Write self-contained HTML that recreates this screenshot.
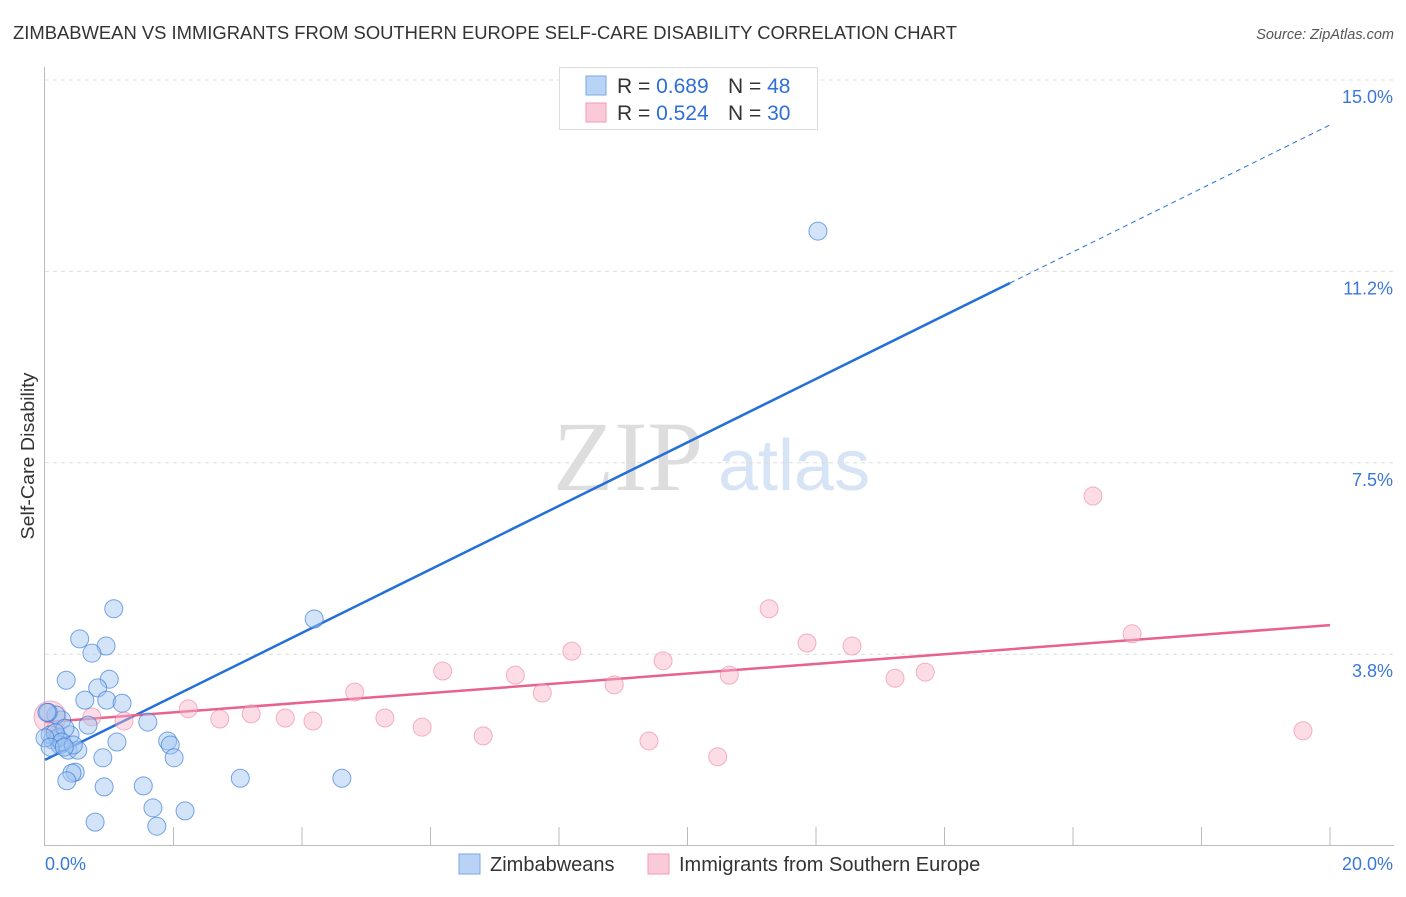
<!DOCTYPE html>
<html><head><meta charset="utf-8"><style>
body{margin:0;background:#fff;font-family:"Liberation Sans",sans-serif;}
svg text{font-family:"Liberation Sans",sans-serif;}
</style></head><body>
<svg id="chart" width="1406" height="892">
<text x="13" y="39" font-size="18" fill="#333" textLength="944" lengthAdjust="spacingAndGlyphs">ZIMBABWEAN VS IMMIGRANTS FROM SOUTHERN EUROPE SELF-CARE DISABILITY CORRELATION CHART</text>
<text x="1394" y="39" font-size="14.5" fill="#555" font-style="italic" text-anchor="end">Source: ZipAtlas.com</text>
<text x="34" y="456" font-size="18" fill="#333" transform="rotate(-90 34 456)" text-anchor="middle" textLength="167" lengthAdjust="spacingAndGlyphs">Self-Care Disability</text>
<g><text x="553" y="490" font-size="100" fill="#ddd" style="font-family:'Liberation Serif',serif">ZIP</text><text x="718" y="490" font-size="72" fill="#d6e4f5">atlas</text></g>
<g id="grid"></g><g id="axes"></g><g id="lines"></g><g id="pts"></g>
<g>
<rect x="559.5" y="67.5" width="258" height="62" fill="#fff" stroke="#ddd"/>
<rect x="586" y="76" width="20" height="19" fill="#b8d3f5" stroke="#7aaae6"/>
<rect x="586" y="103" width="20" height="19" fill="#fbcad8" stroke="#f09ab4"/>
<text y="93" font-size="21"><tspan x="617" fill="#333">R = </tspan><tspan fill="#2f6fd6">0.689</tspan><tspan x="728" fill="#333">N = </tspan><tspan fill="#2f6fd6">48</tspan></text>
<text y="120" font-size="21"><tspan x="617" fill="#333">R = </tspan><tspan fill="#2f6fd6">0.524</tspan><tspan x="728" fill="#333">N = </tspan><tspan fill="#2f6fd6">30</tspan></text>
</g>
<g>
<rect x="459" y="854" width="21" height="20" fill="#b8d3f5" stroke="#7aaae6"/>
<text x="490" y="871" font-size="20" fill="#333">Zimbabweans</text>
<rect x="648" y="854" width="21" height="20" fill="#fbcad8" stroke="#f09ab4"/>
<text x="679" y="871" font-size="20" fill="#333">Immigrants from Southern Europe</text>
</g>
</svg>
<script>
const yTicks=[3.8,7.5,11.2,15.0];
const yTickVals=[3.75,7.5,11.25,15];
const xTickLabels=["0.0%","20.0%"];
const blueX=[1.07,.54,.95,.73,.33,1.00,.82,.62,.96,1.20,.26,.67,1.60,.17,.05,.39,.12,.23,.36,.51,1.12,1.91,1.95,2.01,.90,.47,.42,.34,.92,1.53,3.04,4.62,.78,1.68,1.74,2.18,4.19,12.03,.08,.20,.31,.16,.26,.44,0,.08,.30,.03];
const blueY=[4.64,4.05,3.91,3.77,3.24,3.26,3.09,2.85,2.85,2.79,2.46,2.36,2.42,2.56,2.61,2.17,2.07,1.97,1.87,1.87,2.03,2.05,1.97,1.72,1.72,1.44,1.42,1.27,1.15,1.17,1.32,1.32,.46,.74,.38,.68,4.44,12.04,2.17,2.11,2.30,2.21,2.03,1.97,2.11,1.93,1.93,2.61];
const pinkX=[.08,.73,1.23,2.23,2.72,3.21,3.74,4.17,4.82,5.29,5.87,6.19,6.82,7.32,7.74,8.20,8.86,9.40,9.62,10.47,10.65,11.27,11.86,12.56,13.23,13.70,16.31,16.92,19.58,.16];
const pinkY=[2.52,2.52,2.44,2.68,2.48,2.58,2.50,2.44,3.01,2.50,2.32,3.42,2.15,3.34,2.99,3.81,3.15,2.05,3.62,1.74,3.34,4.64,3.97,3.91,3.28,3.40,6.85,4.15,2.25,2.27];
const blueLine=[1.68,14.12];
const pinkLine=[2.42,4.32];
const X=v=>45+v*64.25, Y=v=>845.6-v*51.04;
const NS="http://www.w3.org/2000/svg";
function mk(t,a,p){const e=document.createElementNS(NS,t);for(const k in a)e.setAttribute(k,a[k]);p.appendChild(e);return e;}
const grid=document.getElementById('grid'),axes=document.getElementById('axes'),lines=document.getElementById('lines'),pts=document.getElementById('pts');
yTickVals.forEach((v,i)=>{
 const l=mk('line',{x1:45,x2:1394,y1:Y(v),y2:Y(v),stroke:'#ddd','stroke-dasharray':'4,4'},grid);
 
 
 const t=mk('text',{x:1393,y:Y(v)+23,'font-size':18,fill:'#3a78d8','text-anchor':'end'},grid);
 t.textContent=yTicks[i].toFixed(1)+'%';
 
 
});
mk('line',{x1:44.5,x2:44.5,y1:67,y2:846,stroke:'#bbb'},axes);
mk('line',{x1:44,x2:1394,y1:845.5,y2:845.5,stroke:'#bbb'},axes);
for(let i=1;i<=10;i++){const tk=mk('line',{x1:X(i*2),x2:X(i*2),y1:827,y2:846,stroke:'#bbb'},axes);}
[[0,'start',45],[20,'end',1393]].forEach((a,i)=>{const t=mk('text',{x:a[2],y:870,'font-size':18,fill:'#3a78d8','text-anchor':a[1]},axes);t.textContent=xTickLabels[i];});
const bl=mk('line',{x1:X(0),y1:Y(blueLine[0]),x2:X(15.02),y2:Y(blueLine[0]+(blueLine[1]-blueLine[0])*15.02/20),stroke:'#2370d8','stroke-width':2.5},lines);


const bd=mk('line',{x1:X(15.02),y1:Y(blueLine[0]+(blueLine[1]-blueLine[0])*15.02/20),x2:X(20),y2:Y(blueLine[1]),stroke:'#2370d8','stroke-width':1,'stroke-dasharray':'5,4'},lines);


const pl=mk('line',{x1:X(0),y1:Y(pinkLine[0]),x2:X(20),y2:Y(pinkLine[1]),stroke:'#e8628e','stroke-width':2.5},lines);


pinkX.forEach((x,i)=>{const c=mk('circle',{cx:X(x),cy:Y(pinkY[i]),r:i==0?16:9,fill:'rgba(248,180,200,0.45)',stroke:'rgba(236,130,165,0.6)','stroke-width':1},pts);
 
 });
blueX.forEach((x,i)=>{const c=mk('circle',{cx:X(x),cy:Y(blueY[i]),r:9,fill:'rgba(160,195,240,0.45)',stroke:'rgba(50,120,215,0.65)','stroke-width':1},pts);
 
 });
</script>
</body></html>
